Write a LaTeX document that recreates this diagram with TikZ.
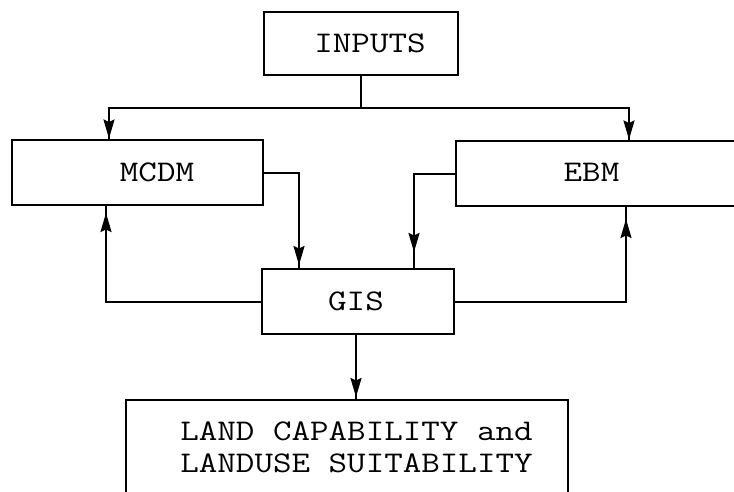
\documentclass[tikz,border=0pt]{standalone}
\usepackage{graphicx}
\usetikzlibrary{arrows.meta,decorations.markings,calc}

\tikzset{
  box/.style={draw, line width=2pt, inner sep=0pt},
  conn/.style={line width=2pt},
  arr/.style={conn, postaction={decorate},
    decoration={markings, mark=at position -#1 with {\arrow{Stealth[length=19pt,width=11pt,inset=2.5pt]}}}},
  arr/.default=0.5pt,
  lbl/.style={font=\ttfamily\fontsize{30}{32}\selectfont, inner sep=0pt}
}
% wide typewriter lettering
\newcommand{\wtt}[1]{\scalebox{1.2}[1]{#1}}

\begin{document}
\begin{tikzpicture}[x=1pt, y=-1pt]
  \useasboundingbox (0,0) rectangle (734,491);

  % boxes
  \node[box, minimum width=194pt, minimum height=63pt] (inputs) at (361,43.5) {};
  \node[lbl] (inputs-t) at (370,43.5) {\wtt{INPUTS}};

  \node[box, minimum width=251pt, minimum height=65pt] (mcdm) at (137.5,172.5) {};
  \node[lbl] (mcdm-t) at (157,172) {\wtt{MCDM}};

  \node[box, minimum width=320pt, minimum height=65pt] (ebm) at (616,173.5) {};
  \node[lbl] (ebm-t) at (591.5,172) {\wtt{EBM}};

  \node[box, minimum width=192pt, minimum height=65pt] (gis) at (358,301.5) {};
  \node[lbl] (gis-t) at (356,301.5) {\wtt{GIS}};

  \node[box, minimum width=442pt, minimum height=140pt] (land) at (347,470) {};
  \node[lbl] (land-t1) at (356.5,431.5) {\wtt{LAND CAPABILITY and}};
  \node[lbl] (land-t2) at (356.5,463) {\wtt{LANDUSE SUITABILITY}};

  % junctions below INPUTS and the drop point under GIS
  \coordinate (jl) at (109,108);
  \coordinate (jr) at (629,108);
  \coordinate (gb) at (356,334);

  % connectors
  \draw[arr] (inputs.south) |- (jl) -- (jl |- mcdm.north);
  \draw[arr] (inputs.south) |- (jr) -- (jr |- ebm.north);

  \draw[arr=3pt] (mcdm.east) -| ($(gis.north west)+(38,0)$);
  \draw[arr=16pt] (ebm.west) -| ($(gis.north west)+(153,0)$);

  \draw[arr=7pt] (gis.west) -| ($(mcdm.south west)+(95,0)$);
  \draw[arr=12pt] (gis.east) -| ($(ebm.south west)+(171,0)$);

  \draw[arr=2pt] (gb) -- (gb |- land.north);
\end{tikzpicture}
\end{document}
